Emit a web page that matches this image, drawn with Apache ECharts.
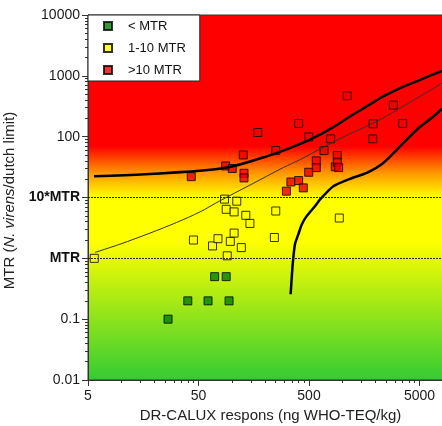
<!DOCTYPE html>
<html>
<head>
<meta charset="utf-8">
<script src="https://cdn.jsdelivr.net/npm/echarts@6/dist/echarts.min.js"></script>
<style>html,body{margin:0;padding:0;background:#fff}#c{width:442px;height:426px}</style>
</head>
<body>
<div id="c"></div>
<script>
// ---- data ----
const legendNames = ['< MTR', '1-10 MTR', '>10 MTR'];

const greenX = [26.5, 40, 61, 94.5, 70, 89];
const greenY = [0.1, 0.2, 0.2, 0.2, 0.5, 0.5];

const yellowX = [5.7, 45, 67, 75, 97, 105, 91, 122, 146, 243, 86, 111, 89, 105, 134, 250, 940];
const yellowY = [1.0, 2.0, 1.6, 2.1, 1.9, 2.6, 1.1, 1.5, 3.75, 2.2, 9.4, 8.7, 6.4, 5.8, 5.1, 6.0, 4.6];

const redX = [43, 88, 101, 127, 129, 129, 172, 250, 312, 343, 403, 444, 403, 497, 497, 582, 582, 684, 785, 865, 902, 902, 927, 1110, 1900, 1885, 2900, 3520];
const redY = [22, 33, 30, 50, 25, 21, 117, 59, 12.7, 18, 19, 14.4, 165, 99, 26, 40, 31, 59, 92, 32, 49, 38, 31, 470, 163, 92, 330, 165];

const upperX = [5.67, 16.4, 57.3, 102.6, 207, 336, 510, 824, 1174, 1663, 2350, 3333, 5060, 8000];
const upperY = [22.3, 24.1, 28, 32.6, 47.5, 65, 89, 142, 215, 314, 458, 628, 860, 1208];

const fitX = [5.78, 9.75, 18.2, 31.7, 51.6, 78, 146, 292, 415, 955, 2195, 8000];
const fitY = [1.25, 1.71, 2.6, 3.89, 5.8, 8.8, 16, 31, 42, 93, 190, 760];

const lowerX = [341, 348, 356, 373, 400, 430, 476, 566, 630, 830, 1175, 1663, 2350, 3333, 4720, 6670, 8000];
const lowerY = [0.257, 0.45, 0.8, 1.7, 2.47, 3.6, 4.94, 7.2, 9.3, 15.3, 20.3, 25.4, 37, 69, 130, 215, 288];

const refLines = [1, 10];

const xTickValues = [5, 50, 500, 5000];
const xTickLabels = ['5', '50', '500', '5000'];
const xMinorTicks = [10, 15, 20, 25, 30, 35, 40, 45,
  100, 150, 200, 250, 300, 350, 400, 450,
  1000, 1500, 2000, 2500, 3000, 3500, 4000, 4500];

const yTickValues = [0.01, 0.1, 1, 10, 100, 1000, 10000];
const yTickLabels = ['0.01', '0.1', 'MTR', '10*MTR', '100', '1000', '10000'];
const yMinorTicks = [0.02, 0.03, 0.04, 0.05, 0.06, 0.07, 0.08, 0.09,
  0.2, 0.3, 0.4, 0.5, 0.6, 0.7, 0.8, 0.9,
  2, 3, 4, 5, 6, 7, 8, 9,
  20, 30, 40, 50, 60, 70, 80, 90,
  200, 300, 400, 500, 600, 700, 800, 900,
  2000, 3000, 4000, 5000, 6000, 7000, 8000, 9000];

const xTitle = 'DR-CALUX respons (ng WHO-TEQ/kg)';

// ---- chart ----
const FONT = "'Liberation Sans', Arial, Helvetica, sans-serif";
const zip = (a, b) => a.map((v, i) => [v, b[i]]);
const findLabel = (vals, labs, v) => {
  let best = 0, d = Infinity;
  vals.forEach((t, i) => { const dd = Math.abs(Math.log10(t) - Math.log10(v)); if (dd < d) { d = dd; best = i; } });
  return labs[best];
};

const X_MIN = 5, X_MAX = 8330, Y_MIN = 0.01, Y_MAX = 10000;

const chart = echarts.init(document.getElementById('c'), null, { renderer: 'canvas' });

const baseX = { type: 'log', logBase: 10, min: X_MIN, max: X_MAX, gridIndex: 0, position: 'bottom', splitLine: { show: false } };
const baseY = { type: 'log', logBase: 10, min: Y_MIN, max: Y_MAX, gridIndex: 0, position: 'left', splitLine: { show: false } };

const scatterStyle = (color) => ({ color: color, borderColor: '#000', borderWidth: 1 });

chart.setOption({
  animation: false,
  textStyle: { fontFamily: FONT },
  grid: {
    left: 88, top: 15, right: -2, bottom: 46,
    containLabel: false,
    outerBoundsMode: 'none',
    show: true,
    borderColor: '#333', borderWidth: 1,
    backgroundColor: {
      type: 'linear', x: 0, y: 0, x2: 0, y2: 1,
      colorStops: [
        { offset: 0, color: '#ff0000' },
        { offset: 0.36, color: '#ff0000' },
        { offset: 0.435, color: '#ff9a00' },
        { offset: 0.50, color: '#ffff00' },
        { offset: 0.62, color: '#ffff00' },
        { offset: 1, color: '#33cc33' }
      ]
    }
  },
  legend: {
    left: 88, top: 15, orient: 'vertical',
    data: legendNames,
    backgroundColor: '#fff', borderColor: '#222', borderWidth: 1,
    padding: [4, 14, 4, 15],
    itemWidth: 8, itemHeight: 8, itemGap: 8,
    icon: 'rect',
    textStyle: { fontSize: 13, lineHeight: 14, color: '#111', fontFamily: FONT, padding: [0, 0, 0, 11] }
  },
  xAxis: [
    Object.assign({}, baseX, {
      name: xTitle, nameLocation: 'middle', nameGap: 27,
      nameTextStyle: { fontSize: 15, color: '#222', fontFamily: FONT, padding: [0, 0, 0, 9] },
      axisLine: { show: true, lineStyle: { color: '#333', width: 1 } },
      axisTick: { show: true, inside: false, length: 6, lineStyle: { color: '#333' }, customValues: xTickValues },
      axisLabel: { show: true, margin: 9, fontSize: 14, color: '#1a1a1a', fontFamily: FONT, customValues: xTickValues,
        formatter: v => findLabel(xTickValues, xTickLabels, v) }
    }),
    Object.assign({}, baseX, {
      axisLine: { show: false },
      axisTick: { show: true, inside: false, length: 3, lineStyle: { color: '#333' }, customValues: xMinorTicks },
      axisLabel: { show: false }
    })
  ],
  yAxis: [
    Object.assign({}, baseY, {
      name: '{a|MTR (}{i|N. virens}{a|/dutch limit)}', nameLocation: 'middle', nameGap: 61, nameRotate: 90,
      nameTextStyle: { fontSize: 15, color: '#222', fontFamily: FONT, padding: [0, 6, 0, 0],
        rich: { a: { fontSize: 15, color: '#222', fontFamily: FONT }, i: { fontSize: 15, fontStyle: 'italic', color: '#222', fontFamily: FONT } } },
      axisLine: { show: true, lineStyle: { color: '#333', width: 1 } },
      axisTick: { show: true, inside: false, length: 6, lineStyle: { color: '#333' }, customValues: yTickValues },
      axisLabel: { show: true, margin: 8, fontSize: 14, color: '#1a1a1a', fontFamily: FONT, customValues: yTickValues,
        formatter: v => { const s = findLabel(yTickValues, yTickLabels, v); return s.indexOf('MTR') >= 0 ? '{b|' + s + '}' : s; },
        rich: { b: { fontWeight: 'bold', fontSize: 14, color: '#111', fontFamily: FONT } } }
    }),
    Object.assign({}, baseY, {
      axisLine: { show: false },
      axisTick: { show: true, inside: false, length: 3, lineStyle: { color: '#333' }, customValues: yMinorTicks },
      axisLabel: { show: false }
    })
  ],
  series: [
    {
      type: 'line', name: 'upper', data: zip(upperX, upperY), showSymbol: false, smooth: 0.3,
      lineStyle: { color: '#000', width: 2.5 }, silent: true,
      markLine: {
        silent: true, symbol: ['none', 'none'], label: { show: false },
        lineStyle: { color: '#222', width: 1.2, type: [2, 1] },
        data: refLines.map(v => ({ yAxis: v }))
      }
    },
    { type: 'line', name: 'fit', data: zip(fitX, fitY), showSymbol: false, smooth: 0.3,
      lineStyle: { color: '#333', width: 1 }, silent: true },
    { type: 'line', name: 'lower', data: zip(lowerX, lowerY), showSymbol: false, smooth: 0.2,
      lineStyle: { color: '#000', width: 2.5 }, silent: true },
    { type: 'scatter', name: legendNames[0], data: zip(greenX, greenY), symbol: 'rect', symbolSize: 8, itemStyle: scatterStyle('#008000') },
    { type: 'scatter', name: legendNames[1], data: zip(yellowX, yellowY), symbol: 'rect', symbolSize: 8, itemStyle: scatterStyle('#ffff00') },
    { type: 'scatter', name: legendNames[2], data: zip(redX, redY), symbol: 'rect', symbolSize: 8, itemStyle: scatterStyle('#ee0000') }
  ]
});
</script>
</body>
</html>
